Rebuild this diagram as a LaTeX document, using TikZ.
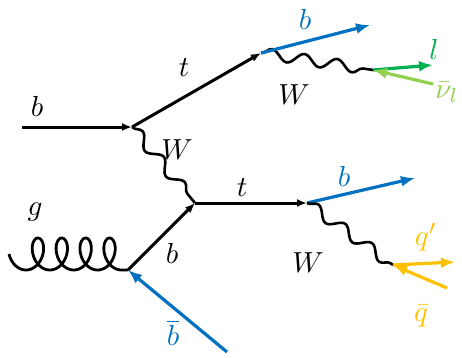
\documentclass[tikz,border=0pt]{standalone}
\usepackage{tikz}
\usetikzlibrary{arrows.meta,decorations.pathmorphing,positioning}
\definecolor{qblue}{RGB}{0,112,192}
\definecolor{lgreen}{RGB}{0,176,80}
\definecolor{nugreen}{RGB}{146,208,80}
\definecolor{qgold}{RGB}{255,192,0}
\begin{document}
\begin{tikzpicture}[x=1pt, y=-1pt,
      fermion/.style={line width=3pt, -{Latex[length=10pt,width=8pt]}},
      outgoing/.style={line width=3.2pt, -{Latex[length=14pt,width=11pt]}},
      boson/.style={line width=2.6pt, decorate, decoration={snake, amplitude=5.5pt, segment length=33pt}},
      gluon/.style={line width=2.8pt, line join=round},
      lbl/.style={scale=2.9, inner sep=0pt}
    ]
    \useasboundingbox (0,0) rectangle (462,357);
    % vertices
    \coordinate (bin) at (22,127);
    \coordinate (v1) at (132,127);
    \coordinate (v2) at (261,53);
    \coordinate (v3) at (373,70);
    \coordinate (v4) at (195,203);
    \coordinate (v5) at (307,203);
    \coordinate (v6) at (128,270);
    \coordinate (v7) at (393,265);
    \coordinate (gin) at (8,254);
    \coordinate (bbarin) at (227,352);
    \coordinate (bout1) at (370,25);
    \coordinate (lout) at (433,65);
    \coordinate (nuin) at (433,84);
    \coordinate (bout2) at (415,178);
    \coordinate (qout) at (455,262);
    \coordinate (qbarin) at (447,288);

    % lines
    \draw[fermion] (bin) -- (v1);
    \draw[fermion] (v1) -- (v2);
    \draw[boson] (v2) -- (v3);
    \draw[outgoing, qblue] (v2) -- (bout1);
    \draw[outgoing, lgreen] (v3) -- (lout);
    \draw[outgoing, nugreen] (nuin) -- (v3);
    \draw[boson] (v1) -- (v4);
    \draw[fermion] (v4) -- (v5);
    \draw[gluon, shift={(gin)}] plot[domain=0:26.7, samples=240, variable=\t]
      ({12+3.8*\t-11*cos(\t r)}, {16*sin(\t r)}) -- (v6);
    \draw[fermion] (v6) -- (v4);
    \draw[outgoing, qblue] (bbarin) -- (v6);
    \draw[outgoing, qblue] (v5) -- (bout2);
    \draw[boson] (v5) -- (v7);
    \draw[outgoing, qgold] (v7) -- (qout);
    \draw[outgoing, qgold] (qbarin) -- (v7);

    % labels
    \node[lbl] (bl1) at (37,106) {$b$};
    \node[lbl] (tl1) at (184,68) {$t$};
    \node[lbl] (wl1) at (177,150) {$W$};
    \node[lbl, qblue] (bl2) at (305,19) {$b$};
    \node[lbl] (wl2) at (294,95) {$W$};
    \node[lbl, lgreen] (ll) at (434,49) {$l$};
    \node[lbl, nugreen] (nul) at (447,92) {$\bar{\nu}_l$};
    \node[lbl] (tl2) at (242,188) {$t$};
    \node[lbl, qblue] (bl3) at (344,176) {$b$};
    \node[lbl] (gl) at (35,212) {$g$};
    \node[lbl] (bl4) at (172,253) {$b$};
    \node[lbl] (wl3) at (308,263) {$W$};
    \node[lbl, qgold] (ql) at (426,237) {$q'$};
    \node[lbl, qgold] (qbl) at (421,316) {$\bar{q}$};
    \node[lbl, qblue] (bbl) at (173,333) {$\overline{b}$};
  \end{tikzpicture}
\end{document}
